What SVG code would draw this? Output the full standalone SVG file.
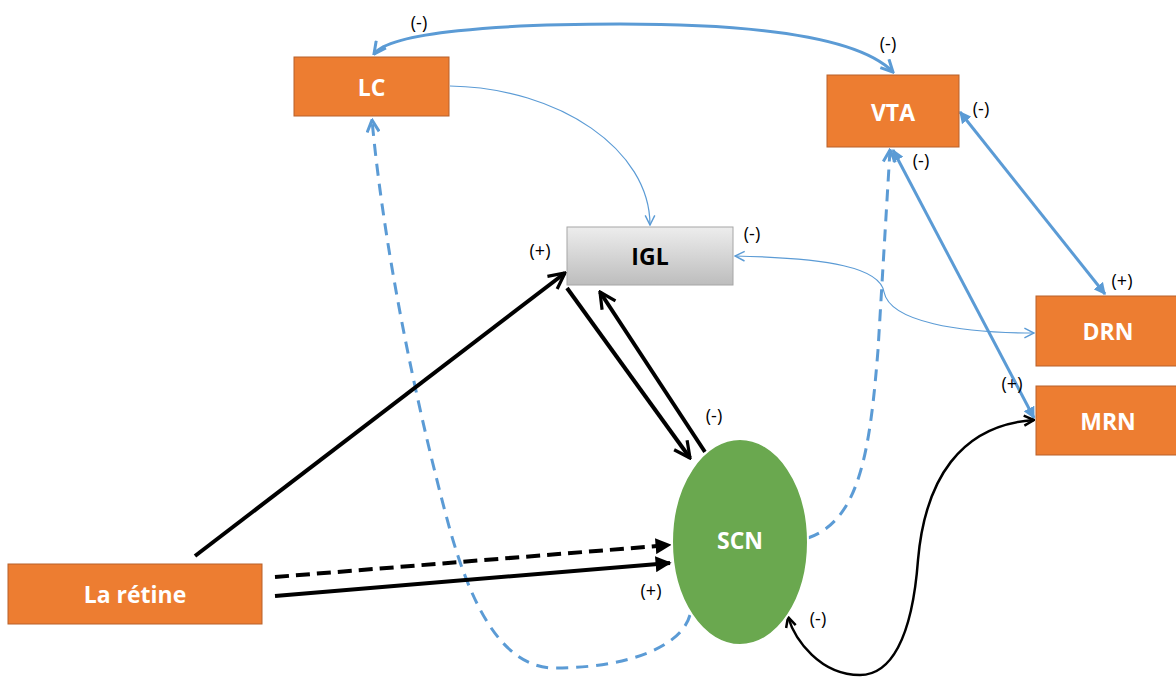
<svg xmlns="http://www.w3.org/2000/svg" width="1176" height="677" viewBox="0 0 1176 677">
<style>
.box{fill:#ED7D31;stroke:#B8612A;stroke-width:1}
.nl{font-family:"Open Sans","Liberation Sans",sans-serif;font-weight:bold;font-size:23px;fill:#fff;text-anchor:middle;dominant-baseline:central}
.lb{font-family:"Open Sans","Liberation Sans",sans-serif;font-size:18px;fill:#000;text-anchor:middle}
.bt{fill:none;stroke:#5B9BD5;stroke-width:3}
.bn{fill:none;stroke:#5B9BD5;stroke-width:1.2}
.bd{fill:none;stroke:#5B9BD5;stroke-width:3;stroke-dasharray:12 8}
.k{fill:none;stroke:#000;stroke-width:4}
.kd{fill:none;stroke:#000;stroke-width:4;stroke-dasharray:14 7}
.kc{fill:none;stroke:#000;stroke-width:2.5}
</style>
<defs>
<linearGradient id="gg" x1="0" y1="0" x2="0" y2="1">
<stop offset="0" stop-color="#EDEDED"/><stop offset="1" stop-color="#BDBDBD"/>
</linearGradient>
<marker id="bo" viewBox="0 0 10 10" refX="9" refY="5" markerWidth="5" markerHeight="5" orient="auto-start-reverse" markerUnits="strokeWidth">
<path d="M1,1 L9,5 L1,9" fill="none" stroke="#5B9BD5" stroke-width="2"/>
</marker>
<marker id="bs" viewBox="0 0 10 10" refX="9" refY="5" markerWidth="12" markerHeight="12" orient="auto-start-reverse" markerUnits="userSpaceOnUse">
<path d="M1,1 L9,5 L1,9" fill="none" stroke="#5B9BD5" stroke-width="1.2"/>
</marker>
<marker id="bf" viewBox="0 0 10 10" refX="9" refY="5" markerWidth="4" markerHeight="4" orient="auto-start-reverse" markerUnits="strokeWidth">
<path d="M0,0 L10,5 L0,10 Z" fill="#5B9BD5"/>
</marker>
<marker id="ko" viewBox="0 0 10 10" refX="9" refY="5" markerWidth="5" markerHeight="5" orient="auto-start-reverse" markerUnits="strokeWidth">
<path d="M1,1 L9,5 L1,9" fill="none" stroke="#000" stroke-width="1.6"/>
</marker>
<marker id="kf" viewBox="0 0 10 10" refX="9" refY="5" markerWidth="4" markerHeight="4" orient="auto" markerUnits="strokeWidth">
<path d="M0,0 L10,5 L0,10 Z" fill="#000"/>
</marker>
<marker id="kc" viewBox="0 0 10 10" refX="9" refY="5" markerWidth="5" markerHeight="5" orient="auto-start-reverse" markerUnits="strokeWidth">
<path d="M1,1 L9,5 L1,9" fill="none" stroke="#000" stroke-width="2"/>
</marker>
</defs>
<rect width="1176" height="677" fill="#fff"/>
<g id="connectors">
<path class="bt" d="M374,54 C 390,32 500,24 620,24 C 760,24 860,38 893,72" marker-start="url(#bo)" marker-end="url(#bo)"/>
<path class="bn" d="M450,86 C 560,88 650,150 650,225" marker-end="url(#bs)"/>
<path class="bd" d="M690,615 C 680,650 620,668 555,668 C 500,668 470,600 450,530 C 420,420 385,260 372,120" marker-end="url(#bo)"/>
<path class="bd" d="M808,538 C 860,520 870,450 878,350 L 890,150" marker-end="url(#bo)"/>
<path class="bt" d="M960,112 L1105,294" marker-start="url(#bf)" marker-end="url(#bf)"/>
<path class="bt" d="M893,150 L1034,418" marker-start="url(#bf)" marker-end="url(#bf)"/>
<path class="bn" d="M735,256 C 830,258 880,268 884,292 C 890,322 960,333 1034,333" marker-start="url(#bs)" marker-end="url(#bs)"/>
<path class="k" d="M195,556 L565,273" marker-end="url(#ko)"/>
<path class="k" d="M567,288 L690,458" marker-end="url(#ko)"/>
<path class="k" d="M705,452 L600,292" marker-end="url(#ko)"/>
<path class="kd" d="M275,577 L670,545" marker-end="url(#kf)"/>
<path class="k" d="M275,596 L670,563" marker-end="url(#kf)"/>
<path class="kc" d="M1034,420 C 960,425 925,480 918,560 C 912,640 890,675 860,675 C 820,675 795,640 788,617" marker-start="url(#kc)" marker-end="url(#kc)"/>
</g>
<g id="LC"><rect class="box" x="294" y="57" width="155" height="59"/><text class="nl" x="371.5" y="87">LC</text></g>
<g id="VTA"><rect class="box" x="827" y="75" width="132" height="72"/><text class="nl" x="893" y="112">VTA</text></g>
<g id="IGL"><rect x="567" y="227" width="166" height="58" fill="url(#gg)" stroke="#A6A6A6"/><text class="nl" x="650" y="256" style="fill:#000">IGL</text></g>
<g id="DRN"><rect class="box" x="1036" y="296" width="145" height="70"/><text class="nl" x="1108" y="331">DRN</text></g>
<g id="MRN"><rect class="box" x="1036" y="386" width="145" height="69"/><text class="nl" x="1108" y="421">MRN</text></g>
<g id="La-retine"><rect class="box" x="8" y="564" width="254" height="60"/><text class="nl" x="135" y="594">La rétine</text></g>
<g id="SCN"><ellipse cx="740" cy="542" rx="68" ry="103" fill="#6AA84F" stroke="#fff" stroke-width="2"/><text class="nl" x="740" y="540">SCN</text></g>
<g id="labels">
<text class="lb" x="419" y="29">(-)</text>
<text class="lb" x="888" y="50">(-)</text>
<text class="lb" x="981" y="115">(-)</text>
<text class="lb" x="921" y="167">(-)</text>
<text class="lb" x="752" y="240">(-)</text>
<text class="lb" x="540" y="257">(+)</text>
<text class="lb" x="1122" y="287">(+)</text>
<text class="lb" x="1012" y="390">(+)</text>
<text class="lb" x="714" y="422">(-)</text>
<text class="lb" x="651" y="597">(+)</text>
<text class="lb" x="818" y="625">(-)</text>
</g>
</svg>
